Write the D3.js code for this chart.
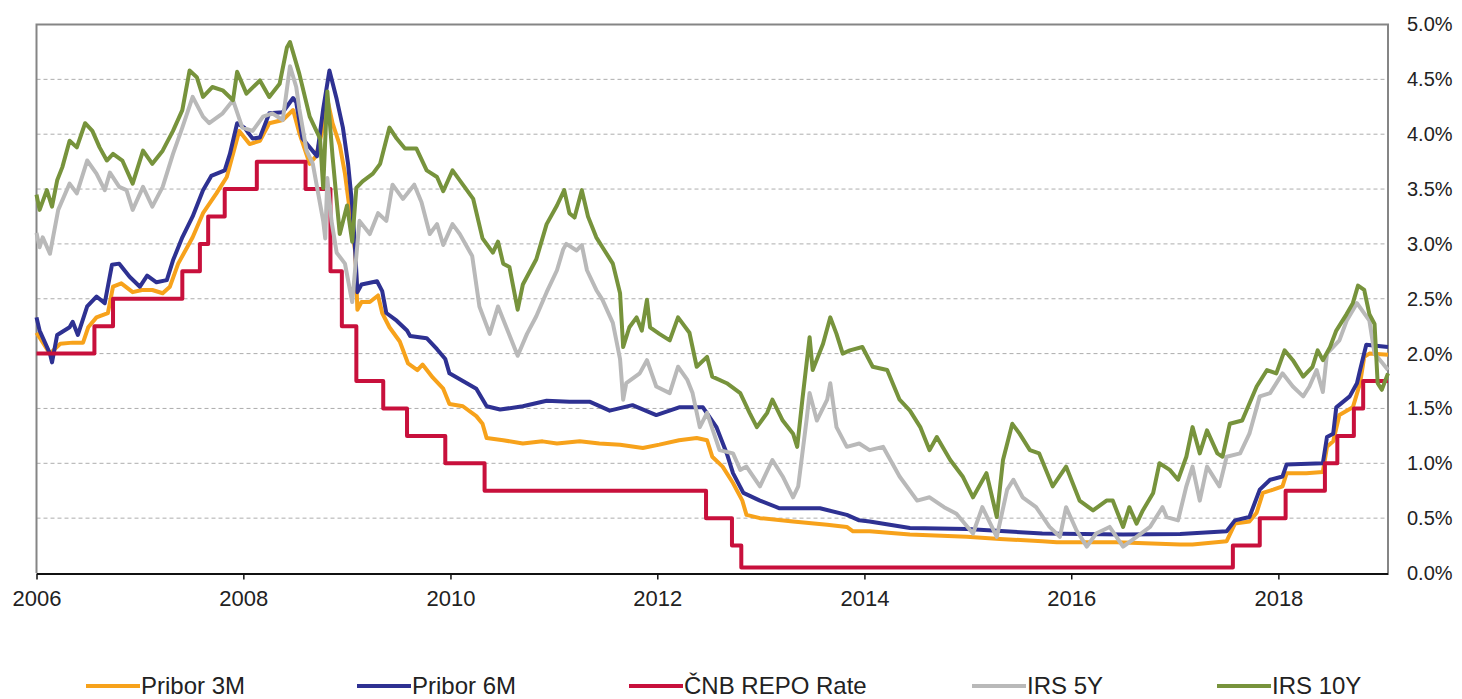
<!DOCTYPE html>
<html>
<head>
<meta charset="utf-8">
<script src="https://cdn.jsdelivr.net/npm/d3@7"></script>
<style>
  body { margin: 0; background: #fff; }
  svg text { font-family: "Liberation Sans", Arial, sans-serif; fill: #222; }
</style>
</head>
<body>
<div id="vis"></div>
<script>
// values: [decimal year, rate in %]
const pribor3m = [[2006.00,2.19],[2006.13,2.00],[2006.23,2.09],[2006.35,2.10],[2006.45,2.10],[2006.50,2.24],[2006.58,2.33],[2006.69,2.37],[2006.74,2.61],[2006.82,2.64],[2006.93,2.56],[2007.02,2.58],[2007.12,2.58],[2007.22,2.55],[2007.29,2.61],[2007.37,2.82],[2007.51,3.06],[2007.61,3.28],[2007.74,3.46],[2007.84,3.61],[2007.90,3.82],[2007.96,4.03],[2008.06,3.91],[2008.16,3.94],[2008.25,4.10],[2008.38,4.13],[2008.48,4.22],[2008.54,4.01],[2008.64,3.73],[2008.70,3.80],[2008.77,4.06],[2008.81,4.32],[2008.86,4.10],[2008.93,3.90],[2008.98,3.64],[2009.03,3.28],[2009.08,2.92],[2009.10,2.40],[2009.14,2.47],[2009.22,2.47],[2009.30,2.53],[2009.34,2.37],[2009.41,2.24],[2009.51,2.11],[2009.59,1.91],[2009.68,1.85],[2009.73,1.90],[2009.83,1.78],[2009.93,1.68],[2009.99,1.54],[2010.12,1.52],[2010.25,1.43],[2010.31,1.36],[2010.35,1.23],[2010.51,1.21],[2010.70,1.18],[2010.89,1.20],[2011.03,1.18],[2011.25,1.20],[2011.44,1.18],[2011.64,1.17],[2011.86,1.14],[2012.02,1.17],[2012.21,1.21],[2012.38,1.23],[2012.48,1.21],[2012.53,1.06],[2012.63,0.97],[2012.73,0.82],[2012.82,0.66],[2012.86,0.53],[2012.99,0.50],[2013.31,0.47],[2013.64,0.44],[2013.83,0.42],[2013.89,0.38],[2014.05,0.38],[2014.44,0.35],[2014.99,0.33],[2015.31,0.31],[2015.72,0.29],[2015.86,0.28],[2016.44,0.28],[2017.05,0.26],[2017.17,0.26],[2017.50,0.29],[2017.58,0.45],[2017.72,0.47],[2017.79,0.55],[2017.85,0.73],[2017.95,0.76],[2018.04,0.79],[2018.08,0.91],[2018.27,0.91],[2018.43,0.92],[2018.47,1.15],[2018.53,1.20],[2018.59,1.44],[2018.72,1.51],[2018.79,1.73],[2018.83,1.97],[2018.88,2.00],[2019.06,1.99]]

const pribor6m = [[2006.00,2.33],[2006.03,2.21],[2006.13,2.00],[2006.15,1.92],[2006.20,2.17],[2006.32,2.24],[2006.35,2.29],[2006.40,2.17],[2006.49,2.43],[2006.58,2.52],[2006.66,2.46],[2006.73,2.81],[2006.80,2.82],[2006.90,2.70],[2007.00,2.61],[2007.07,2.71],[2007.16,2.65],[2007.26,2.67],[2007.32,2.85],[2007.41,3.06],[2007.51,3.25],[2007.61,3.49],[2007.69,3.62],[2007.82,3.67],[2007.87,3.82],[2007.94,4.10],[2008.01,4.06],[2008.09,3.96],[2008.16,3.97],[2008.25,4.19],[2008.38,4.20],[2008.48,4.33],[2008.51,4.29],[2008.57,3.96],[2008.71,3.80],[2008.77,4.23],[2008.83,4.58],[2008.90,4.32],[2008.96,4.06],[2009.01,3.73],[2009.05,3.35],[2009.08,2.92],[2009.10,2.56],[2009.14,2.63],[2009.29,2.66],[2009.34,2.57],[2009.38,2.37],[2009.48,2.30],[2009.58,2.21],[2009.61,2.16],[2009.77,2.14],[2009.87,2.04],[2009.95,1.95],[2009.99,1.82],[2010.12,1.75],[2010.25,1.68],[2010.35,1.52],[2010.48,1.49],[2010.70,1.52],[2010.93,1.57],[2011.15,1.56],[2011.35,1.56],[2011.54,1.48],[2011.76,1.53],[2011.99,1.44],[2012.21,1.51],[2012.44,1.51],[2012.57,1.33],[2012.67,1.09],[2012.73,0.91],[2012.83,0.73],[2012.99,0.66],[2013.18,0.59],[2013.57,0.59],[2013.83,0.53],[2013.95,0.48],[2014.05,0.47],[2014.44,0.41],[2014.99,0.40],[2015.72,0.36],[2016.50,0.35],[2017.05,0.355],[2017.50,0.38],[2017.58,0.48],[2017.72,0.51],[2017.82,0.76],[2017.92,0.85],[2018.04,0.88],[2018.08,0.99],[2018.43,1.00],[2018.47,1.24],[2018.53,1.27],[2018.56,1.51],[2018.69,1.61],[2018.76,1.73],[2018.79,1.85],[2018.85,2.08],[2019.06,2.06]]

// step changes of the CNB repo rate
const repoRate = [[2006.00,2.00],[2006.56,2.25],[2006.74,2.50],[2007.41,2.75],[2007.58,3.00],[2007.66,3.25],[2007.82,3.50],[2008.13,3.75],[2008.60,3.50],[2008.84,2.75],[2008.95,2.25],[2009.09,1.75],[2009.35,1.50],[2009.58,1.25],[2009.95,1.00],[2010.33,0.75],[2012.47,0.50],[2012.72,0.25],[2012.81,0.05],[2017.56,0.25],[2017.82,0.50],[2018.07,0.75],[2018.45,1.00],[2018.57,1.25],[2018.73,1.50],[2018.82,1.75],[2019.06,1.75]]

const irs5y = [[2006.00,3.10],[2006.03,2.97],[2006.06,3.06],[2006.13,2.91],[2006.21,3.31],[2006.32,3.55],[2006.39,3.46],[2006.49,3.76],[2006.58,3.64],[2006.66,3.49],[2006.71,3.65],[2006.80,3.52],[2006.87,3.49],[2006.93,3.31],[2007.03,3.52],[2007.12,3.34],[2007.22,3.52],[2007.32,3.82],[2007.41,4.06],[2007.51,4.34],[2007.61,4.16],[2007.67,4.10],[2007.80,4.19],[2007.90,4.31],[2007.99,4.06],[2008.09,4.03],[2008.19,4.16],[2008.28,4.19],[2008.38,4.13],[2008.45,4.62],[2008.51,4.43],[2008.54,4.23],[2008.61,3.85],[2008.67,3.73],[2008.77,3.21],[2008.79,3.05],[2008.81,3.60],[2008.85,3.21],[2008.90,2.92],[2008.98,2.82],[2009.05,2.47],[2009.09,2.89],[2009.12,3.21],[2009.22,3.09],[2009.30,3.28],[2009.38,3.21],[2009.44,3.54],[2009.54,3.41],[2009.65,3.54],[2009.72,3.38],[2009.80,3.09],[2009.87,3.18],[2009.93,2.99],[2010.02,3.18],[2010.09,3.09],[2010.21,2.89],[2010.28,2.43],[2010.38,2.18],[2010.46,2.43],[2010.54,2.24],[2010.65,1.98],[2010.74,2.18],[2010.83,2.34],[2010.93,2.56],[2011.03,2.76],[2011.09,2.95],[2011.12,3.00],[2011.22,2.94],[2011.27,2.99],[2011.32,2.76],[2011.41,2.58],[2011.47,2.49],[2011.57,2.28],[2011.64,1.95],[2011.67,1.58],[2011.70,1.73],[2011.83,1.82],[2011.90,1.94],[2011.99,1.70],[2012.12,1.64],[2012.20,1.88],[2012.29,1.76],[2012.34,1.64],[2012.41,1.33],[2012.48,1.46],[2012.60,1.12],[2012.73,1.09],[2012.80,0.94],[2012.86,0.97],[2012.99,0.79],[2013.11,1.03],[2013.21,0.88],[2013.31,0.69],[2013.36,0.79],[2013.44,1.39],[2013.47,1.64],[2013.54,1.39],[2013.64,1.58],[2013.67,1.73],[2013.73,1.33],[2013.83,1.15],[2013.95,1.18],[2014.05,1.12],[2014.18,1.15],[2014.34,0.88],[2014.51,0.66],[2014.63,0.69],[2014.77,0.60],[2014.89,0.54],[2015.05,0.36],[2015.14,0.60],[2015.28,0.33],[2015.38,0.76],[2015.44,0.85],[2015.53,0.69],[2015.66,0.60],[2015.79,0.42],[2015.89,0.33],[2015.95,0.60],[2016.05,0.39],[2016.15,0.24],[2016.24,0.36],[2016.37,0.42],[2016.50,0.24],[2016.63,0.33],[2016.76,0.42],[2016.88,0.60],[2016.92,0.51],[2017.03,0.48],[2017.11,0.79],[2017.17,0.97],[2017.24,0.66],[2017.31,0.97],[2017.43,0.79],[2017.50,1.06],[2017.63,1.09],[2017.72,1.27],[2017.82,1.61],[2017.92,1.64],[2018.04,1.82],[2018.14,1.70],[2018.24,1.61],[2018.30,1.70],[2018.37,1.85],[2018.43,1.65],[2018.47,2.00],[2018.59,2.12],[2018.66,2.30],[2018.76,2.46],[2018.88,2.30],[2018.93,2.00],[2019.01,1.91],[2019.06,1.85]]

const irs10y = [[2006.00,3.45],[2006.03,3.31],[2006.10,3.49],[2006.15,3.34],[2006.20,3.58],[2006.25,3.70],[2006.32,3.94],[2006.39,3.88],[2006.47,4.10],[2006.54,4.03],[2006.61,3.88],[2006.68,3.76],[2006.74,3.82],[2006.83,3.76],[2006.93,3.55],[2007.03,3.85],[2007.12,3.73],[2007.22,3.85],[2007.32,4.03],[2007.41,4.22],[2007.48,4.58],[2007.55,4.52],[2007.61,4.34],[2007.70,4.43],[2007.80,4.40],[2007.90,4.31],[2007.94,4.57],[2008.03,4.37],[2008.16,4.49],[2008.25,4.34],[2008.35,4.46],[2008.42,4.79],[2008.45,4.84],[2008.54,4.55],[2008.64,4.16],[2008.74,3.96],[2008.77,3.51],[2008.81,4.39],[2008.86,3.80],[2008.93,3.09],[2009.00,3.35],[2009.05,3.02],[2009.09,3.51],[2009.15,3.57],[2009.25,3.64],[2009.32,3.73],[2009.41,4.06],[2009.48,3.96],[2009.56,3.87],[2009.67,3.87],[2009.77,3.67],[2009.87,3.61],[2009.93,3.48],[2010.02,3.67],[2010.12,3.54],[2010.22,3.41],[2010.31,3.05],[2010.41,2.92],[2010.46,3.02],[2010.51,2.82],[2010.57,2.79],[2010.65,2.40],[2010.70,2.63],[2010.83,2.86],[2010.93,3.18],[2011.03,3.35],[2011.10,3.49],[2011.15,3.28],[2011.20,3.24],[2011.27,3.49],[2011.33,3.25],[2011.41,3.06],[2011.47,2.97],[2011.57,2.82],[2011.64,2.55],[2011.67,2.06],[2011.73,2.24],[2011.80,2.33],[2011.85,2.21],[2011.90,2.49],[2011.93,2.24],[2012.02,2.18],[2012.12,2.12],[2012.20,2.33],[2012.31,2.19],[2012.38,1.88],[2012.48,1.97],[2012.53,1.79],[2012.67,1.73],[2012.80,1.64],[2012.89,1.46],[2012.96,1.33],[2013.06,1.46],[2013.11,1.58],[2013.21,1.39],[2013.31,1.27],[2013.35,1.15],[2013.40,1.58],[2013.47,2.15],[2013.50,1.85],[2013.60,2.09],[2013.67,2.33],[2013.73,2.18],[2013.79,2.00],[2013.86,2.03],[2013.98,2.06],[2014.08,1.88],[2014.22,1.85],[2014.34,1.58],[2014.44,1.48],[2014.54,1.33],[2014.63,1.12],[2014.70,1.24],[2014.83,1.03],[2014.95,0.88],[2015.05,0.69],[2015.18,0.91],[2015.28,0.51],[2015.34,1.03],[2015.43,1.36],[2015.50,1.27],[2015.60,1.12],[2015.69,1.09],[2015.82,0.79],[2015.95,0.97],[2016.08,0.66],[2016.21,0.57],[2016.34,0.66],[2016.40,0.66],[2016.50,0.42],[2016.56,0.60],[2016.63,0.45],[2016.69,0.57],[2016.79,0.73],[2016.85,1.00],[2016.95,0.94],[2017.03,0.85],[2017.11,1.06],[2017.17,1.33],[2017.24,1.09],[2017.31,1.30],[2017.41,1.09],[2017.46,1.06],[2017.53,1.36],[2017.65,1.39],[2017.79,1.70],[2017.89,1.85],[2017.98,1.82],[2018.06,2.03],[2018.14,1.94],[2018.24,1.79],[2018.33,1.88],[2018.38,2.03],[2018.43,1.94],[2018.50,2.06],[2018.56,2.21],[2018.66,2.36],[2018.72,2.46],[2018.77,2.62],[2018.83,2.58],[2018.88,2.36],[2018.93,2.27],[2018.96,1.73],[2019.00,1.67],[2019.06,1.82]]

const seriesNames = ['Pribor 3M', 'Pribor 6M', 'ČNB REPO Rate', 'IRS 5Y', 'IRS 10Y']
const seriesColors = ['#f7a21b', '#2e3192', '#c8103c', '#b9b9b9', '#77933c']
const yTicks = [0, 0.5, 1, 1.5, 2, 2.5, 3, 3.5, 4, 4.5, 5]
const xTickYears = [2006, 2008, 2010, 2012, 2014, 2016, 2018]
const xStart = 2006, xEnd = 2019.06

const plot = {left: 36.5, right: 1388, top: 24.5, bottom: 573}
let xScale, yScale

// decimal year -> Date
function yearToDate(y){
    const yr = Math.floor(y)
    const a = Date.UTC(yr, 0, 1), b = Date.UTC(yr + 1, 0, 1)
    return new Date(a + (y - yr) * (b - a))
}

function createScales(){
    xScale = d3.scaleUtc()
        .domain([yearToDate(xStart), yearToDate(xEnd)])
        .range([plot.left, plot.right])
    yScale = d3.scaleLinear()
        .domain([0, 5])
        .range([plot.bottom, plot.top])
}

function draw(){
    const svg = d3.select('#vis').append('svg')
        .attr('width', 1462)
        .attr('height', 699)

    // dashed gridlines
    svg.append('g').selectAll('line')
        .data(yTicks.filter(d => d > 0 && d < 5))
        .join('line')
        .attr('x1', plot.left).attr('x2', plot.right)
        .attr('y1', d => yScale(d)).attr('y2', d => yScale(d))
        .attr('stroke', '#adadad')
        .attr('stroke-width', 1)
        .attr('stroke-dasharray', '4,3')

    // frame: left, top, right
    svg.append('path')
        .attr('d', `M${plot.left},${plot.bottom}V${plot.top}H${plot.right}V${plot.bottom}`)
        .attr('fill', 'none')
        .attr('stroke', '#858585')
        .attr('stroke-width', 2)

    const line = d3.line()
        .x(d => xScale(yearToDate(d[0])))
        .y(d => yScale(d[1]))

    const stepLine = d3.line()
        .x(d => xScale(yearToDate(d[0])))
        .y(d => yScale(d[1]))
        .curve(d3.curveStepAfter)

    const allSeries = [pribor3m, pribor6m, repoRate, irs5y, irs10y]
    allSeries.forEach((s, i) => {
        svg.append('path')
            .datum(s)
            .attr('d', i === 2 ? stepLine : line)
            .attr('fill', 'none')
            .attr('stroke', seriesColors[i])
            .attr('stroke-width', 4)
            .attr('stroke-linejoin', 'round')
    })

    // bottom axis
    const xAxis = d3.axisBottom(xScale)
        .tickValues(xTickYears.map(yearToDate))
        .tickFormat(d3.utcFormat('%Y'))
        .tickSize(6)
        .tickSizeOuter(0)
        .tickPadding(11)
    const gx = svg.append('g')
        .attr('transform', `translate(0,${plot.bottom + 0.5})`)
        .call(xAxis)
    gx.select('.domain').attr('stroke', '#111').attr('stroke-width', 2)
    gx.selectAll('.tick line').attr('stroke', '#111').attr('stroke-width', 1.5)
    gx.selectAll('text')
        .attr('font-size', 22)
        .attr('font-family', '"Liberation Sans", Arial, sans-serif')
        .attr('fill', '#222')

    // right axis labels
    const yAxis = d3.axisRight(yScale)
        .tickValues(yTicks)
        .tickFormat(d => d.toFixed(1) + '%')
        .tickSize(0)
        .tickPadding(19)
    const gy = svg.append('g')
        .attr('transform', `translate(${plot.right},0)`)
        .call(yAxis)
    gy.select('.domain').remove()
    gy.selectAll('text')
        .attr('font-size', 20)
        .attr('font-family', '"Liberation Sans", Arial, sans-serif')
        .attr('fill', '#222')

    // legend
    const legendX = [86, 357, 629, 972, 1217]
    const legend = svg.append('g')
        .attr('transform', 'translate(0,686)')
    seriesNames.forEach((name, i) => {
        legend.append('line')
            .attr('x1', legendX[i]).attr('x2', legendX[i] + 54)
            .attr('stroke', seriesColors[i])
            .attr('stroke-width', 4)
        legend.append('text')
            .attr('x', legendX[i] + 55)
            .attr('y', 0)
            .attr('dy', '0.35em')
            .attr('font-size', 24)
            .text(name)
    })
}

createScales()
draw()
</script>
</body>
</html>
